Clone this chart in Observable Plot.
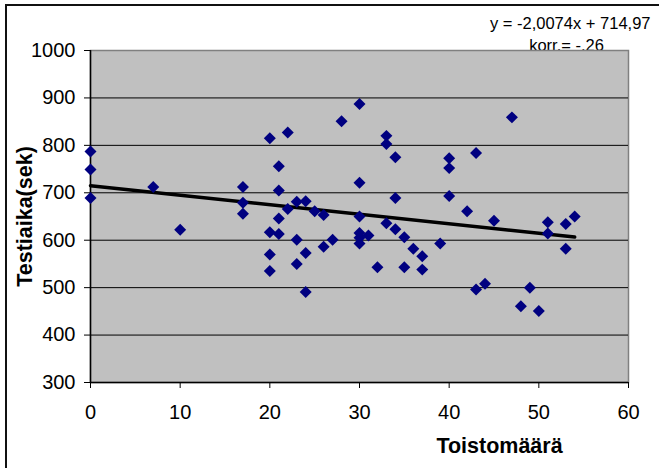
<!DOCTYPE html>
<html>
<head>
<meta charset="utf-8">
<script src="https://cdn.jsdelivr.net/npm/d3@7"></script>
<script src="https://cdn.jsdelivr.net/npm/@observablehq/plot@0.6"></script>
<style>
  html, body { margin: 0; padding: 0; background: #fff; overflow: hidden; }
  #wrap { position: relative; width: 659px; height: 468px; overflow: hidden; }
  #border { position: absolute; left: 5px; top: 4px; width: 800px; height: 600px;
            border-left: 2px solid #111; border-top: 2px solid #111; pointer-events: none; }
  svg { display: block; }
</style>
</head>
<body>
<div id="wrap"><div id="border"></div></div>
<script>
// Toistomäärä (x) and Testiaika (y) values
const xValues = [0,0,0,7,10,17,17,17,20,20,20,20,21,21,21,21,22,22,23,23,23,24,24,24,25,26,26,27,28,30,30,30,30,30,30,31,32,33,33,33,34,34,34,35,35,36,37,37,39,40,40,40,42,43,43,44,45,47,48,49,50,51,51,53,53,54];
const yValues = [787,749,689,712,622,712,679,656,815,617,570,535,756,705,646,613,827,666,681,601,550,682,573,491,661,653,586,601,851,887,721,650,615,605,593,610,543,820,803,636,775,689,623,606,543,582,566,538,593,773,752,693,661,784,496,508,641,859,461,500,451,638,614,634,582,650];
const xTicks = [0,10,20,30,40,50,60];
const yTicks = [300,400,500,600,700,800,900,1000];
const gridLines = [400,500,600,700,800,900];
const slope = -2.0074;
const intercept = 714.97;
const trendRange = [0, 54];
const xTitle = "Toistomäärä";
const yTitle = "Testiaika(sek)";
const equationText = "y = -2,0074x + 714,97";
const corrText = "korr.= -.26";

const points = xValues.map((x, i) => ({x, y: yValues[i]}));
const trend = trendRange.map(x => ({x, y: slope * x + intercept}));

const chart = Plot.plot({
  width: 659,
  height: 468,
  marginLeft: 90,
  marginRight: 31,
  marginTop: 50,
  marginBottom: 86,
  style: {fontFamily: "'Liberation Sans', Arial, sans-serif", fontSize: "20px", background: "transparent", overflow: "visible", color: "#000"},
  x: {domain: [0, 60]},
  y: {domain: [300, 1000]},
  marks: [
    Plot.text([corrText], {frameAnchor: "top-right", dx: -62, dy: 0, lineAnchor: "bottom", textAnchor: "middle", fontSize: 16.5, fill: "#000"}),
    Plot.frame({fill: "#c0c0c0", stroke: "#808080", strokeWidth: 1.5}),
    Plot.gridY(gridLines, {stroke: "#000", strokeOpacity: 1, strokeWidth: 1}),
    Plot.ruleX([0], {stroke: "#000", strokeWidth: 1.5}),
    Plot.ruleY([300], {stroke: "#000", strokeWidth: 1.5}),
    Plot.axisY({ticks: yTicks, tickFormat: d => String(d), tickSize: 6, tickPadding: 9, label: null, fontSize: 20}),
    Plot.axisX({ticks: xTicks, tickFormat: d => String(d), tickSize: 6, tickPadding: 16, label: null, fontSize: 20}),
    Plot.line(trend, {x: "x", y: "y", stroke: "#000", strokeWidth: 3.5}),
    Plot.dot(points, {x: "x", y: "y", symbol: "diamond2", r: 5.4, fill: "#000080", stroke: "none"}),
    Plot.text([xTitle], {frameAnchor: "bottom", dx: 140, dy: 70, lineAnchor: "bottom", textAnchor: "middle", fontSize: 21.5, fontWeight: "bold", fill: "#000"}),
    Plot.text([yTitle], {frameAnchor: "left", dx: -65, dy: 0, rotate: -90, lineAnchor: "middle", textAnchor: "middle", fontSize: 21.5, fontWeight: "bold", fill: "#000"}),
    Plot.text([equationText], {frameAnchor: "top-right", dx: 22, dy: -22, lineAnchor: "bottom", textAnchor: "end", fontSize: 16.5, fill: "#000"})
  ]
});
document.getElementById("wrap").insertBefore(chart, document.getElementById("border"));
</script>
</body>
</html>
